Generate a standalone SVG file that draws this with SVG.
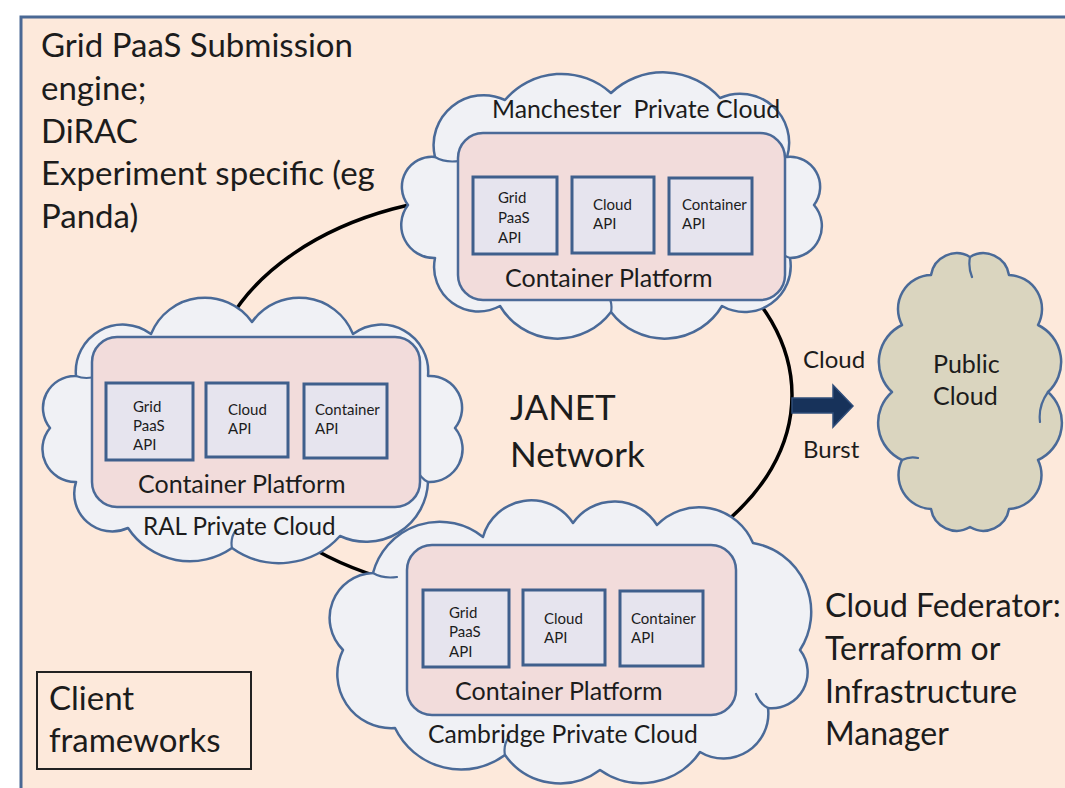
<svg xmlns="http://www.w3.org/2000/svg" width="1065" height="788" viewBox="0 0 1065 788">
<style>
.t{font-family:Lato,"Liberation Sans",sans-serif;fill:#1c1c1c}
.cloud{fill:#f0f1f5;stroke:#4a6a98;stroke-width:2.5;stroke-linejoin:round}
.pub{fill:#dad5bf;stroke:#4a6a98;stroke-width:2.5;stroke-linejoin:round}
.inner{fill:none;stroke:#4a6a98;stroke-width:2.2;stroke-linecap:round}
.plat{fill:#f2dcdb;stroke:#4b6a98;stroke-width:2.5}
.api{fill:#e6e4ee;stroke:#3f5f8c;stroke-width:3}
.big{font-size:33px}
.lbl{font-size:25px}
.sm{font-size:15px}
</style>
<rect x="0" y="0" width="1065" height="788" fill="#ffffff"/>
<rect x="21" y="17" width="1100" height="800" fill="#fde9db" stroke="#4a6894" stroke-width="3"/>

<g id="connectors">
<ellipse cx="500" cy="395" rx="292" ry="200" fill="none" stroke="#000" stroke-width="3.5"/>
<path d="M792,398 L833,398 L833,385 L853,406 L833,427 L833,413 L792,413 Z" fill="#17325a" stroke="#2f4d7a" stroke-width="1.5"/>
</g>

<g id="intro">
<text class="t big" x="41" y="57">Grid PaaS Submission</text>
<text class="t big" x="41" y="100">engine;</text>
<text class="t big" x="41" y="143">DiRAC</text>
<text class="t big" x="41" y="185">Experiment specific (eg</text>
<text class="t big" x="41" y="228">Panda)</text>
</g>

<g id="manchester">
<path class="cloud" d="M814,205 A32,32 0 0 1 790,258 A46,46 0 0 1 722,306 A67,67 0 0 1 611,312 A67,67 0 0 1 500,306 A44.5,44.5 0 0 1 435,258 A33,33 0 0 1 408,205 A30,30 0 0 1 435,157 A50,50 0 0 1 505,100 A74,74 0 0 1 611,93 A76,76 0 0 1 720,98 A49,49 0 0 1 787,157 A30,30 0 0 1 814,205 Z"/>
<path class="inner" d="M790,258 q-8,-2 -14,-12 M611,312 q2,-10 -4,-18 M435,157 q10,6 24,4"/>
<text class="t" font-size="24.8" x="492" y="118" xml:space="preserve">Manchester  Private Cloud</text>
<rect class="plat" x="458" y="133" width="327" height="167" rx="25"/>
<rect class="api" x="473" y="177" width="84" height="77"/>
<rect class="api" x="572" y="177" width="82" height="76"/>
<rect class="api" x="669" y="178" width="83" height="76"/>
<text class="t sm" x="498" y="203">Grid</text>
<text class="t sm" x="498" y="223">PaaS</text>
<text class="t sm" x="498" y="243">API</text>
<text class="t sm" x="593" y="210">Cloud</text>
<text class="t sm" x="593" y="229">API</text>
<text class="t sm" x="682" y="210">Container</text>
<text class="t sm" x="682" y="229">API</text>
<text class="t lbl" x="505" y="287">Container Platform</text>
</g>

<g id="ral">
<path class="cloud" d="M455,428 A33,33 0 0 1 428,482 A62,62 0 0 1 340,536 A81.5,81.5 0 0 1 232,548 A74,74 0 0 1 128,528 A38,38 0 0 1 76,482 A33,33 0 0 1 50,428 A32,32 0 0 1 76,376 A47,47 0 0 1 151,334 A58,58 0 0 1 252,322 A58,58 0 0 1 353,334 A47,47 0 0 1 428,376 A32,32 0 0 1 455,428 Z"/>
<path class="inner" d="M428,482 q-8,-4 -12,-14 M232,548 q-2,-10 4,-18 M76,376 q10,4 22,0"/>
<rect class="plat" x="92" y="337" width="328" height="170" rx="25"/>
<rect class="api" x="106" y="383" width="87" height="77"/>
<rect class="api" x="206" y="383" width="82" height="74"/>
<rect class="api" x="304" y="384" width="83" height="74"/>
<text class="t sm" x="133" y="412">Grid</text>
<text class="t sm" x="133" y="431">PaaS</text>
<text class="t sm" x="133" y="450">API</text>
<text class="t sm" x="228" y="415">Cloud</text>
<text class="t sm" x="228" y="434">API</text>
<text class="t sm" x="315" y="415">Container</text>
<text class="t sm" x="315" y="434">API</text>
<text class="t lbl" x="138" y="493">Container Platform</text>
<text class="t" font-size="24.2" x="143" y="535">RAL Private Cloud</text>
</g>

<g id="cambridge">
<path class="cloud" d="M800,650 A36,36 0 0 1 768,708 A45,45 0 0 1 700,752 A71,71 0 0 1 600,770 A67,67 0 0 1 505,755 A73.5,73.5 0 0 1 395,728 A54,54 0 0 1 343,650 A45,45 0 0 1 373,573 A69,69 0 0 1 483,537 A50,50 0 0 1 573,523 A50.4,50.4 0 0 1 657,525 A58.6,58.6 0 0 1 753,543 A70,70 0 0 1 800,650 Z"/>
<path class="inner" d="M768,708 q-8,-4 -12,-14 M505,755 q-2,-10 4,-18 M373,573 q10,6 24,4"/>
<rect class="plat" x="407" y="545" width="329" height="170" rx="25"/>
<rect class="api" x="423" y="590" width="86" height="77"/>
<rect class="api" x="523" y="590" width="82" height="75"/>
<rect class="api" x="620" y="591" width="83" height="75"/>
<text class="t sm" x="449" y="618">Grid</text>
<text class="t sm" x="449" y="637">PaaS</text>
<text class="t sm" x="449" y="657">API</text>
<text class="t sm" x="544" y="624">Cloud</text>
<text class="t sm" x="544" y="643">API</text>
<text class="t sm" x="631" y="624">Container</text>
<text class="t sm" x="631" y="643">API</text>
<text class="t lbl" x="455" y="700">Container Platform</text>
<text class="t" font-size="24.7" x="428" y="743">Cambridge Private Cloud</text>
</g>

<g id="public">
<path class="pub" d="M1048,392 A41,41 0 0 1 1038,460 A34,34 0 0 1 1009,509 A26,26 0 0 1 970,527 A26,26 0 0 1 931,509 A34,34 0 0 1 902,460 A41,41 0 0 1 892,392 A41,41 0 0 1 902,325 A34,34 0 0 1 931,275 A26,26 0 0 1 970,257 A26,26 0 0 1 1009,275 A34,34 0 0 1 1038,325 A41,41 0 0 1 1048,392 Z"/>
<path class="inner" d="M902,460 q8,-4 16,-2 M970,257 q-2,10 2,20 M1048,392 q-10,14 -8,30"/>
<text class="t" font-size="25" x="933" y="373">Public</text>
<text class="t" font-size="25" x="933" y="405">Cloud</text>
</g>

<g id="burst">
<text class="t" font-size="24" x="803" y="368">Cloud</text>
<text class="t" font-size="24" x="803" y="458">Burst</text>
</g>

<g id="janet">
<text class="t" font-size="35" x="510" y="420">JANET</text>
<text class="t" font-size="35" x="510" y="467">Network</text>
</g>

<g id="federator">
<text class="t" font-size="32" x="825" y="617">Cloud Federator:</text>
<text class="t" font-size="32" x="825" y="660">Terraform or</text>
<text class="t" font-size="32" x="825" y="703">Infrastructure</text>
<text class="t" font-size="32" x="825" y="745">Manager</text>
</g>

<g id="client">
<rect x="37" y="672" width="214" height="97" fill="none" stroke="#222" stroke-width="2"/>
<text class="t" font-size="33" x="49" y="710">Client</text>
<text class="t" font-size="33" x="49" y="752">frameworks</text>
</g>
</svg>
